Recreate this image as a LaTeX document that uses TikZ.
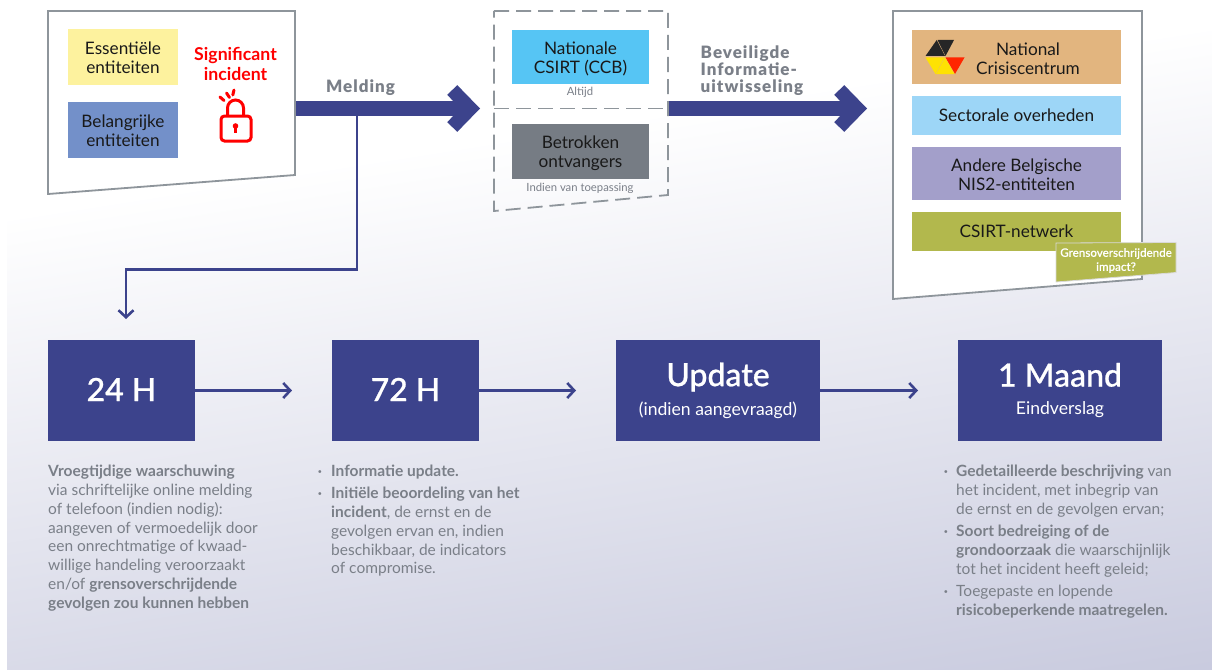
\documentclass[tikz,border=0pt]{standalone}
\usepackage{fontspec}
\setmainfont{Lato}
\usetikzlibrary{arrows.meta,calc}
\definecolor{navy}{HTML}{3C438C}
\definecolor{txtgrey}{HTML}{7A7F88}
\definecolor{framegrey}{HTML}{8E959B}
\definecolor{bgbottom}{HTML}{C8CADE}
\newfontfamily\headfont[LetterSpace=6]{Lato Black}
\newfontfamily\stagefont[FakeBold=0.7]{Lato Medium}
\newfontfamily\tagfont[FakeBold=0.3]{Lato Medium}
\newcommand{\topfill}[1]{\rule{0pt}{#1pt}}
\tikzset{
  frame/.style={draw=framegrey,line width=1.8pt,fill=white,line join=miter},
  dashframe/.style={draw=framegrey,line width=1.8pt,dash pattern=on 15pt off 7pt},
  tile/.style={minimum width=#1,inner sep=0pt,outer sep=0pt,align=center,font=\fontsize{17.2}{19}\selectfont,text=black!90},
  bigarrow/.style={draw=navy,line width=15pt,-{Straight Barb[length=18pt,width=37pt,line width=14pt]}},
  thinarrow/.style={draw=navy,line width=2.6pt,-{Straight Barb[length=7pt,width=15pt,line width=2.6pt]}},
  stage/.style={fill=navy,text=white,inner sep=0pt,outer sep=0pt,align=center,minimum height=101pt},
  arrowlabel/.style={font=\headfont\fontsize{17}{17}\selectfont,text=txtgrey,align=left,inner sep=0pt},
  caption/.style={font=\fontsize{11.3}{12}\selectfont,text=txtgrey,inner sep=0pt},
  body/.style={font=\fontsize{15.5}{18.8}\selectfont,text=txtgrey,align=left,inner sep=0pt,anchor=north west},
  bullet/.style={font=\bfseries\fontsize{15}{18.8}\selectfont,text=txtgrey,inner sep=0pt},
}
\begin{document}
\begin{tikzpicture}[x=1pt,y=-1pt]
\useasboundingbox (0,0) rectangle (1212,669);
% background
\fill[white] (0,0) rectangle (1212,669);
\begin{scope}
\clip (7,0) rectangle (1212,669);
\begin{scope}[transform canvas={rotate around={9:(606,440)}}]
\shade[top color=white,bottom color=bgbottom] (-300,124) rectangle (1500,771);
\end{scope}
\end{scope}
% frames
\draw[frame] (48,11) -- (295,11) -- (295,175) -- (48,194) -- cycle;
\draw[frame] (893,11) -- (1142,11) -- (1142,279) -- (893,299) -- cycle;
\draw[dashframe] (494,11) -- (668,11) -- (668,195) -- (494,211) -- cycle;
% named points
\coordinate (leftout) at (296,108.5);
\coordinate (midleft) at (480,108.5);
\coordinate (midout) at (668.5,108.5);
\coordinate (rightin) at (867,108.5);
\coordinate (branch) at (357,116);
\coordinate (branchdown) at (126,319);
\draw[dashframe] (494,108.5) -- (midout);
% left tiles
\node[tile=110pt,minimum height=56pt,fill={rgb,255:red,253;green,242;blue,158}] (ess) at (123,57) {\topfill{14.5}Essentiële\\entiteiten};
\node[tile=110pt,minimum height=56pt,fill={rgb,255:red,115;green,144;blue,201}] (bel) at (123,130) {\topfill{14.5}Belangrijke\\entiteiten};
\node[font=\bfseries\fontsize{17.7}{19.5}\selectfont,text=red,align=center,inner sep=0pt] (sig) at (235.5,64) {Significant\\incident};
% lock icon
\begin{scope}[red,line width=3pt]
\draw[rounded corners=3.5pt] (221,116) rectangle (251,141);
\draw (227.5,116) -- (227.5,108) arc[start angle=180,end angle=0,x radius=8,y radius=-8] -- (243.5,116);
\fill (235.5,126) circle (2.8);
\fill (234.2,126) rectangle (236.8,133);
\draw[line cap=round] (220,97) -- (224,100.5);
\draw[line cap=round] (226.5,93) -- (229.5,97.5);
\draw[line cap=round] (234,90) -- (232.8,95);
\end{scope}
% middle tiles
\node[tile=137pt,minimum height=54pt,fill={rgb,255:red,86;green,197;blue,244}] (nat) at (580.5,57) {\topfill{17}Nationale\\CSIRT (CCB)};
\node[caption] (altijd) at (580,92) {Altijd};
\node[tile=137pt,minimum height=55pt,fill={rgb,255:red,118;green,124;blue,132}] (bet) at (580.5,151.5) {\topfill{16.5}Betrokken\\ontvangers};
\node[caption] (indien) at (580,188) {Indien van toepassing};
% right tiles
\node[tile=209pt,minimum height=54pt,fill={rgb,255:red,226;green,181;blue,127}] (ncc) at (1016.5,57) {};
\node[font=\fontsize{17.2}{19}\selectfont,text=black!90,align=center,inner sep=0pt] (ncct) at (1028,58.5) {National\\Crisiscentrum};
\node[tile=209pt,minimum height=39pt,fill={rgb,255:red,157;green,214;blue,247}] (sec) at (1016.5,115.5) {Sectorale overheden};
\node[tile=209pt,minimum height=53pt,fill={rgb,255:red,163;green,159;blue,202}] (and) at (1016.5,173.5) {\topfill{14.5}Andere Belgische\\NIS2-entiteiten};
\node[tile=209pt,minimum height=39pt,fill={rgb,255:red,178;green,184;blue,77}] (net) at (1016.5,231.5) {CSIRT-netwerk};
% logo
\fill[black!85] (925.5,56) -- (936.7,40) -- (945,56) -- cycle;
\fill[black!85] (937.5,40) -- (954,40) -- (945.5,56) -- cycle;
\fill[red!70!orange] (945.5,57.5) -- (964.5,57.5) -- (955,74) -- cycle;
\fill[yellow!85!orange] (945,57.5) -- (954.5,74) -- (936,74) -- cycle;
\fill[yellow!85!orange] (925.5,57.5) -- (944.5,57.5) -- (935.5,74) -- cycle;
% Grens tag
\draw[draw=white!85!black,line width=.8pt,fill={rgb,255:red,178;green,184;blue,77}] (1056,243) -- (1176,242.5) -- (1176,272.5) -- (1056,282) -- cycle;
\node[font=\tagfont\fontsize{11.6}{14}\selectfont,text=white,align=center,inner sep=0pt] (grens) at (1116,260.5) {Grensoverschrijdende\\impact?};
% connectors
\draw[bigarrow] (leftout) -- (midleft);
\draw[bigarrow] (midout) -- (rightin);
\draw[thinarrow] (branch) -- (357,269.5) -- (126,269.5) -- (branchdown);
\node[arrowlabel] (melding) at (360.5,88) {Melding};
\node[arrowlabel,anchor=north west] (bev) at (700.5,46) {Beveiligde\\Informatie-\\uitwisseling};
% stages
\node[stage,minimum width=147pt] (h24) at (121.5,390.5) {\raisebox{2pt}{\stagefont\fontsize{32}{36}\selectfont 24 H}};
\node[stage,minimum width=147pt] (h72) at (405.5,390.5) {\raisebox{2pt}{\stagefont\fontsize{32}{36}\selectfont 72 H}};
\node[stage,minimum width=204pt] (upd) at (718,390.5) {{\stagefont\fontsize{32}{34}\selectfont Update}\\[9pt]\fontsize{17.6}{18}\selectfont (indien aangevraagd)};
\node[stage,minimum width=204pt] (maand) at (1060,390.5) {{\stagefont\fontsize{32}{34}\selectfont 1 Maand}\\[14pt]\fontsize{17.6}{18}\selectfont Eindverslag};
\draw[thinarrow] (h24) -- ($(h72.west)+(-40,0)$);
\draw[thinarrow] (h72) -- ($(upd.west)+(-40,0)$);
\draw[thinarrow] (upd) -- ($(maand.west)+(-40,0)$);
% body text
\node[body] (t1) at (48,465) {\textbf{Vroegtijdige waarschuwing}\\via schriftelijke online melding\\of telefoon (indien nodig):\\aangeven of vermoedelijk door\\een onrechtmatige of kwaad-\\willige handeling veroorzaakt\\en/of \textbf{grensoverschrijdende}\\\textbf{gevolgen zou kunnen hebben}};
\node[body] (t2a) at (331,465) {\textbf{Informatie update.}};
\node[body] (t2b) at (331,487) {\textbf{Initiële beoordeling van het}\\\textbf{incident}, de ernst en de\\gevolgen ervan en, indien\\beschikbaar, de indicators\\of compromise.};
\node[bullet] (b2a) at (320,474) {·};
\node[bullet] (b2b) at (320,496) {·};
\node[body] (t4a) at (956,465) {\textbf{Gedetailleerde beschrijving} van\\het incident, met inbegrip van\\de ernst en de gevolgen ervan;};
\node[body] (t4b) at (956,525) {\textbf{Soort bedreiging of de}\\\textbf{grondoorzaak} die waarschijnlijk\\tot het incident heeft geleid;};
\node[body] (t4c) at (956,585) {Toegepaste en lopende\\\textbf{risicobeperkende maatregelen.}};
\node[bullet] (b4a) at (946,474) {·};
\node[bullet] (b4b) at (946,534) {·};
\node[bullet] (b4c) at (946,594) {·};
\end{tikzpicture}
\end{document}
